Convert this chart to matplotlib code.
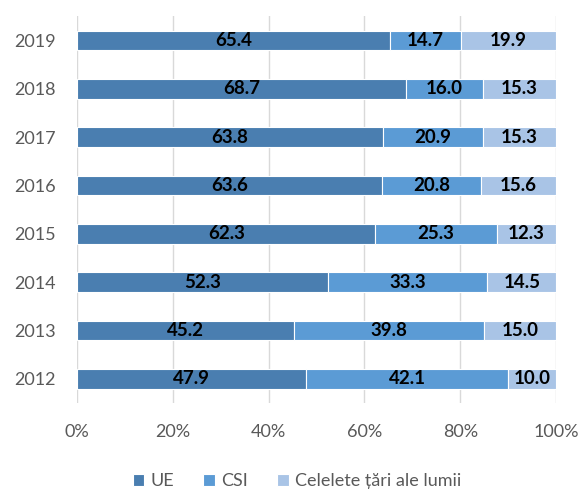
import matplotlib
matplotlib.use("Agg")
import matplotlib.pyplot as plt
import numpy as np

plt.rcParams['font.family'] = ['Lato', 'DejaVu Sans']

years = ['2012', '2013', '2014', '2015', '2016', '2017', '2018', '2019']
ue = [47.9, 45.2, 52.3, 62.3, 63.6, 63.8, 68.7, 65.4]
csi = [42.1, 39.8, 33.3, 25.3, 20.8, 20.9, 16.0, 14.7]
other = [10.0, 15.0, 14.5, 12.3, 15.6, 15.3, 15.3, 19.9]
series_names = ['UE', 'CSI', 'Celelete țări ale lumii']
colors = ['#4A7EB0', '#5B9BD5', '#A9C4E6']

fig = plt.figure(figsize=(5.8, 4.94), dpi=100)
ax = fig.add_axes([0.1328, 0.184, 0.8258, 0.783])

y = np.arange(len(years))
left = np.zeros(len(years))
handles = []
for vals, name, col in zip([ue, csi, other], series_names, colors):
    v = np.array(vals)
    bars = ax.barh(y, v, left=left, height=0.41, color=col, edgecolor='white',
                   linewidth=0.8, label=name, zorder=3)
    handles.append(bars)
    for yi, li, vi in zip(y, left, v):
        ax.text(li + vi / 2, yi, f'{vi:.1f}', ha='center', va='center',
                fontsize=13.5, fontweight='bold', color='black', zorder=4)
    left = left + v

ax.set_xlim(0, 100)
ax.set_ylim(-0.5, len(years) - 0.5)
ax.set_yticks(y)
ax.set_yticklabels(years)
ax.set_xticks([0, 20, 40, 60, 80, 100])
ax.set_xticklabels(['0%', '20%', '40%', '60%', '80%', '100%'])
ax.tick_params(axis='both', length=0, labelsize=13, colors='#595959')
ax.tick_params(axis='x', pad=15)
ax.tick_params(axis='y', pad=15)
ax.grid(axis='x', color='#D9D9D9', linewidth=1, zorder=0)
for s in ax.spines.values():
    s.set_visible(False)

leg = fig.legend(handles=handles, labels=series_names, loc='lower center',
                 bbox_to_anchor=(0.512, 0.0), ncol=3,
                 frameon=False, fontsize=13, handlelength=0.65, handleheight=0.65,
                 columnspacing=1.6, handletextpad=0.35, borderpad=0.15,
                 borderaxespad=0.1)
for t in leg.get_texts():
    t.set_color('#595959')

fig.savefig('out.png', dpi=100)
